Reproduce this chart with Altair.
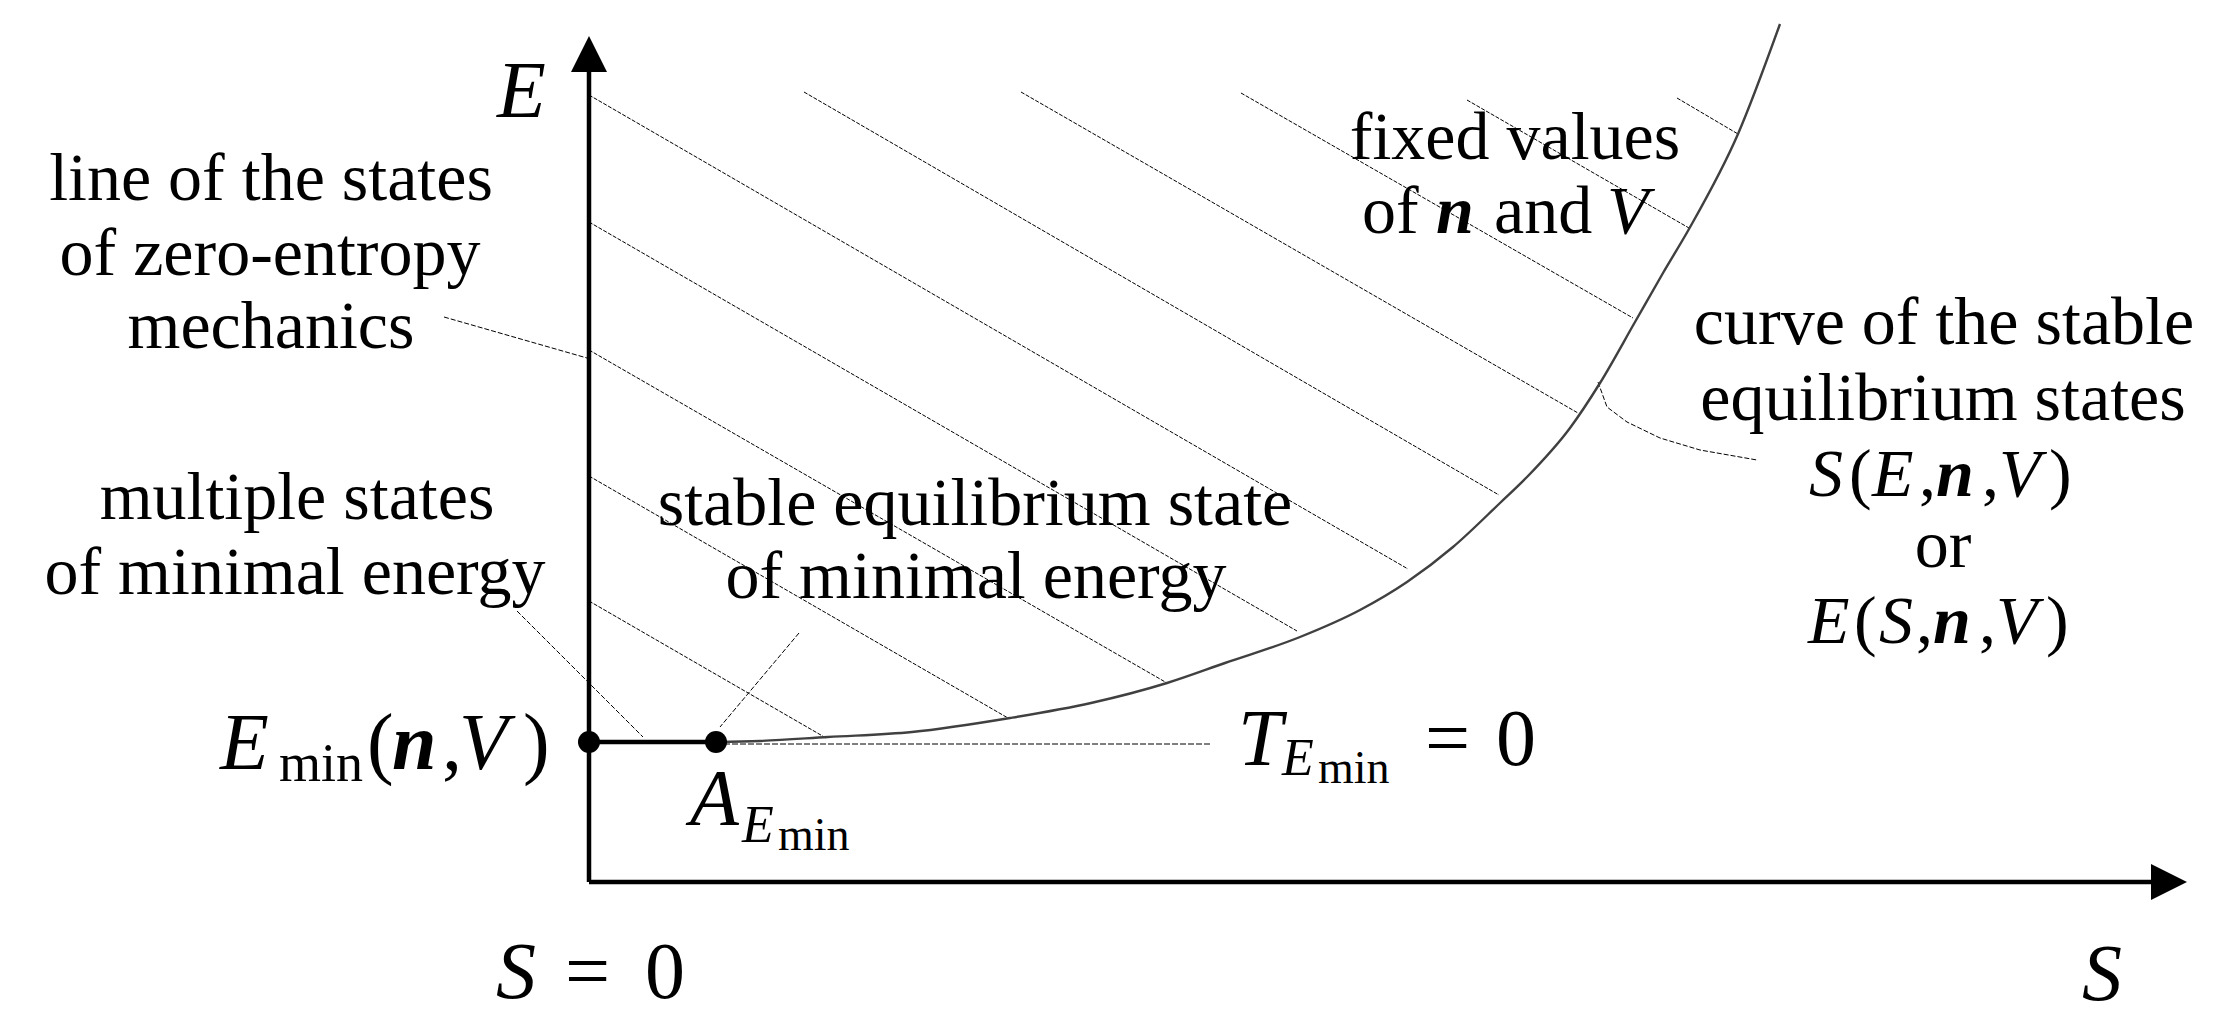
import altair as alt
import pandas as pd

# ---------------- data (S = entropy units, E = energy units) ----------------
# curve of the stable equilibrium states E(S, n, V)
curve_S = [1.27, 1.71, 2.39, 3.23, 4.21, 5.02, 5.78, 6.36, 7.11, 7.71, 8.18,
           8.64, 9.11, 9.38, 9.81, 10.11, 10.46, 10.74, 11.00, 11.49, 11.91]
curve_E = [1.40, 1.41, 1.45, 1.50, 1.64, 1.79, 1.99, 2.19, 2.45, 2.72, 3.00,
           3.35, 3.79, 4.05, 4.54, 4.99, 5.60, 6.09, 6.53, 7.48, 8.58]

# hatching (states with fixed n and V): start and end of each hatch line
hatch_S0 = [0, 0, 0, 0, 0, 2.15, 4.32, 6.52, 8.78, 10.88]
hatch_E0 = [7.87, 6.60, 5.32, 4.06, 2.81, 7.90, 7.90, 7.89, 7.82, 7.84]
hatch_S1 = [8.19, 7.08, 5.78, 4.19, 2.37, 9.10, 9.89, 10.44, 11.00, 11.49]
hatch_E1 = [3.13, 2.51, 1.99, 1.64, 1.44, 3.87, 4.69, 5.64, 6.54, 7.48]

# minimal energy and the state A_Emin
E_min = 1.40
S_A = 1.27

# annotation leader lines
lead_mech_S, lead_mech_E = [-1.45, -0.02], [5.65, 5.24]
lead_mult_S, lead_mult_E = [-0.72, 0.54], [2.71, 1.45]
lead_stab_S, lead_stab_E = [2.10, 1.31], [2.49, 1.55]
lead_curve_S = [10.09, 10.18, 10.38, 10.71, 11.11, 11.68]
lead_curve_E = [5.00, 4.75, 4.60, 4.44, 4.32, 4.22]
temp_S, temp_E = [1.27, 6.23], [1.38, 1.38]

# axes
axis_E_top = 8.15
axis_S_end = 15.62
arrow_up = (0.0, 8.28)
arrow_right = (15.80, 0.0)

# labels: text, S, E, font size, style, align
BODY, LM, BIG, SUB, SUBSUB = 68, 68, 80, 52, 46
labels = [
    ("line of the states", -3.18, 6.82, BODY, "roman", "center"),
    ("of zero-entropy", -3.19, 6.07, BODY, "roman", "center"),
    ("mechanics", -3.18, 5.34, BODY, "roman", "center"),
    ("multiple states", -2.92, 3.63, BODY, "roman", "center"),
    ("of minimal energy", -2.94, 2.88, BODY, "roman", "center"),
    ("stable equilibrium state", 3.86, 3.57, BODY, "roman", "center"),
    ("of minimal energy", 3.87, 2.84, BODY, "roman", "center"),
    ("fixed values", 9.26, 7.23, BODY, "roman", "center"),
    ("of", 7.73, 6.49, BODY, "roman", "left"),
    ("n", 8.47, 6.49, BODY, "bolditalic", "left"),
    ("and", 9.05, 6.49, BODY, "roman", "left"),
    ("V", 10.18, 6.49, BODY, "italic", "left"),
    ("curve of the stable", 13.55, 5.38, BODY, "roman", "center"),
    ("equilibrium states", 13.54, 4.62, BODY, "roman", "center"),
    ("S", 12.20, 3.865, LM, "italic", "left"),
    ("(", 12.60, 3.865, LM, "roman", "left"),
    ("E", 12.83, 3.865, LM, "italic", "left"),
    (",", 13.30, 3.865, LM, "roman", "left"),
    ("n", 13.47, 3.865, LM, "bolditalic", "left"),
    (",", 13.93, 3.865, LM, "roman", "left"),
    ("V", 14.10, 3.865, LM, "italic", "left"),
    (")", 14.60, 3.865, LM, "roman", "left"),
    ("or", 13.54, 3.15, BODY, "roman", "center"),
    ("E", 12.19, 2.39, LM, "italic", "left"),
    ("(", 12.65, 2.39, LM, "roman", "left"),
    ("S", 12.90, 2.39, LM, "italic", "left"),
    (",", 13.27, 2.39, LM, "roman", "left"),
    ("n", 13.44, 2.39, LM, "bolditalic", "left"),
    (",", 13.90, 2.39, LM, "roman", "left"),
    ("V", 14.07, 2.39, LM, "italic", "left"),
    (")", 14.57, 2.39, LM, "roman", "left"),
    # axis names
    ("E", -0.92, 7.65, BIG, "italic", "left"),
    ("S", 14.93, -1.18, BIG, "italic", "left"),
    ("S", -0.93, -1.16, BIG, "italic", "left"),
    ("=", -0.24, -1.16, BIG, "roman", "left"),
    ("0", 0.56, -1.16, BIG, "roman", "left"),
    # E_min(n, V)
    ("E", -3.69, 1.13, BIG, "italic", "left"),
    ("min", -3.10, 1.01, 54, "roman", "left"),
    ("(", -2.22, 1.13, BIG, "roman", "left"),
    ("n", -1.97, 1.13, BIG, "bolditalic", "left"),
    (",", -1.47, 1.13, BIG, "roman", "left"),
    ("V", -1.30, 1.13, BIG, "italic", "left"),
    (")", -0.66, 1.13, BIG, "roman", "left"),
    # A_Emin
    ("A", 1.01, 0.57, BIG, "italic", "left"),
    ("E", 1.53, 0.40, SUB, "italic", "left"),
    ("min", 1.89, 0.32, SUBSUB, "roman", "left"),
    # T_Emin = 0
    ("T", 6.49, 1.17, BIG, "italic", "left"),
    ("E", 6.93, 1.07, SUB, "italic", "left"),
    ("min", 7.29, 0.99, SUBSUB, "roman", "left"),
    ("=", 8.36, 1.17, BIG, "roman", "left"),
    ("0", 9.07, 1.17, BIG, "roman", "left"),
]

# ---------------- build tables ----------------
def paths(groups):
    rows = []
    for gid, (ss, es) in enumerate(groups):
        for i, (s, e) in enumerate(zip(ss, es)):
            rows.append({"g": gid, "i": i, "S": s, "E": e})
    return pd.DataFrame(rows)

hatch_df = paths([([a, c], [b, d]) for a, b, c, d in zip(hatch_S0, hatch_E0, hatch_S1, hatch_E1)])
lead_df = paths([(lead_mech_S, lead_mech_E), (lead_mult_S, lead_mult_E),
                 (lead_stab_S, lead_stab_E), (lead_curve_S, lead_curve_E)])
temp_df = paths([(temp_S, temp_E)])
curve_df = pd.DataFrame({"S": curve_S, "E": curve_E, "i": range(len(curve_S))})
axes_df = paths([([0, 0], [0, axis_E_top]), ([0, axis_S_end], [0, 0]), ([0, S_A], [E_min, E_min])])
dots_df = pd.DataFrame({"S": [0, S_A], "E": [E_min, E_min]})
up_df = pd.DataFrame({"S": [arrow_up[0]], "E": [arrow_up[1]]})
right_df = pd.DataFrame({"S": [arrow_right[0]], "E": [arrow_right[1]]})
lab_df = pd.DataFrame(labels, columns=["text", "S", "E", "size", "kind", "anchor"])

W, H = 2215, 1015
xs = alt.Scale(domain=[-5.81, 16.34], nice=False, zero=False)
ys = alt.Scale(domain=[-1.41, 8.74], nice=False, zero=False)
X = alt.X("S:Q", scale=xs, axis=None)
Y = alt.Y("E:Q", scale=ys, axis=None)

layers = []
layers.append(alt.Chart(hatch_df).mark_line(color="black", strokeWidth=1, strokeDash=[4, 1.5])
              .encode(x=X, y=Y, detail="g:N", order="i:Q"))
layers.append(alt.Chart(lead_df).mark_line(color="black", strokeWidth=1, strokeDash=[5, 2])
              .encode(x=X, y=Y, detail="g:N", order="i:Q"))
layers.append(alt.Chart(temp_df).mark_line(color="black", strokeWidth=1, strokeDash=[6, 2])
              .encode(x=X, y=Y, detail="g:N", order="i:Q"))
layers.append(alt.Chart(curve_df).mark_line(color="#404040", strokeWidth=2.4, interpolate="monotone")
              .encode(x=X, y=Y, order="i:Q"))
layers.append(alt.Chart(axes_df).mark_line(color="black", strokeWidth=4.5)
              .encode(x=X, y=Y, detail="g:N", order="i:Q"))
layers.append(alt.Chart(up_df).mark_point(shape="M0,-1L1,1L-1,1Z", filled=True, size=1296,
                                          color="black", opacity=1, strokeWidth=0)
              .encode(x=X, y=Y))
layers.append(alt.Chart(right_df).mark_point(shape="M1,0L-1,1L-1,-1Z", filled=True, size=1296,
                                             color="black", opacity=1, strokeWidth=0)
              .encode(x=X, y=Y))
layers.append(alt.Chart(dots_df).mark_circle(size=484, color="black", opacity=1)
              .encode(x=X, y=Y))

FONT = "Liberation Serif, DejaVu Serif, serif"
styles = {"roman": ("normal", "normal"), "italic": ("italic", "normal"),
          "bolditalic": ("italic", "bold")}
for kind, (fs, fw) in styles.items():
    for al in ["left", "center"]:
        sub = lab_df[(lab_df["kind"] == kind) & (lab_df["anchor"] == al)].reset_index(drop=True)
        if len(sub) == 0:
            continue
        layers.append(alt.Chart(sub).mark_text(font=FONT, fontStyle=fs, fontWeight=fw,
                                               align=al, baseline="alphabetic", color="black")
                      .encode(x=X, y=Y, text="text:N", size=alt.Size("size:Q", scale=None)))

chart = alt.layer(*layers).properties(
    width=W, height=H, autosize=alt.AutoSizeParams(type="none"), padding=0,
    view=alt.ViewBackground(strokeOpacity=0, strokeWidth=0, fill="white"),
).configure_view(strokeWidth=0, strokeOpacity=0).configure(background="white")

chart.save("out.html", embed_options={"renderer": "svg", "actions": False})
